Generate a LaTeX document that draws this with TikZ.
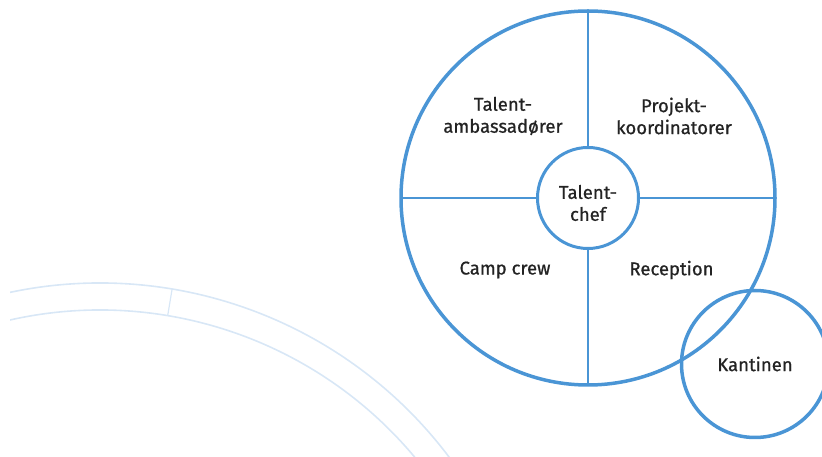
\documentclass[tikz,border=0pt]{standalone}
\usepackage{fontspec}
\setmainfont{Fira Sans}[FakeBold=0.8]
\usepackage{xcolor}
\definecolor{ringblue}{RGB}{74,149,213}
\definecolor{paleblue}{RGB}{216,231,246}
\definecolor{labelgray}{RGB}{35,35,35}

\begin{document}
\begin{tikzpicture}[x=1pt, y=1pt,
    ring/.style={circle, draw=ringblue, line width=3.5pt, inner sep=0pt, outer sep=0pt},
    divider/.style={draw=ringblue, line width=2pt},
    role/.style={align=center, text=labelgray, font=\fontsize{18.5}{22}\selectfont}]
\clip (0,0) rectangle (822,457);

% pale arcs in the lower left corner
\begin{scope}
\clip (10,0) rectangle (822,457);
\coordinate (arcs) at (100,-263);
\draw [paleblue, line width=1.6pt] (arcs) ++(106:437pt)
      arc [start angle=106, end angle=34, radius=437pt];
\draw [paleblue, line width=1.6pt] (arcs) ++(106:410pt)
      arc [start angle=106, end angle=34, radius=410pt];
\draw [paleblue, line width=1.2pt] (arcs) ++(80.5:410pt) -- ++(80.5:27pt);
\end{scope}

\node [ring, minimum size=374pt] (team) at (588,259) {};
\node [ring, minimum size=101pt, line width=3pt,
       label={[role, yshift=-5pt]center:Talent-\\chef}] (chef) at (588,259) {};
\node [ring, role, minimum size=147pt] (kantine) at (755,93) {Kantinen};

\draw [divider] (team.north) -- (chef.north);
\draw [divider] (team.south) -- (chef.south);
\draw [divider] (team.west) -- (chef.west);
\draw [divider] (team.east) -- (chef.east);

\node [role] (ambassador) at (503,341) {Talent-\\ambassadører};
\node [role] (koordinator) at (674,341) {Projekt-\\koordinatorer};
\node [role] (crew) at (505,187) {Camp crew};
\node [role] (reception) at (671.5,187) {Reception};
\end{tikzpicture}
\end{document}
